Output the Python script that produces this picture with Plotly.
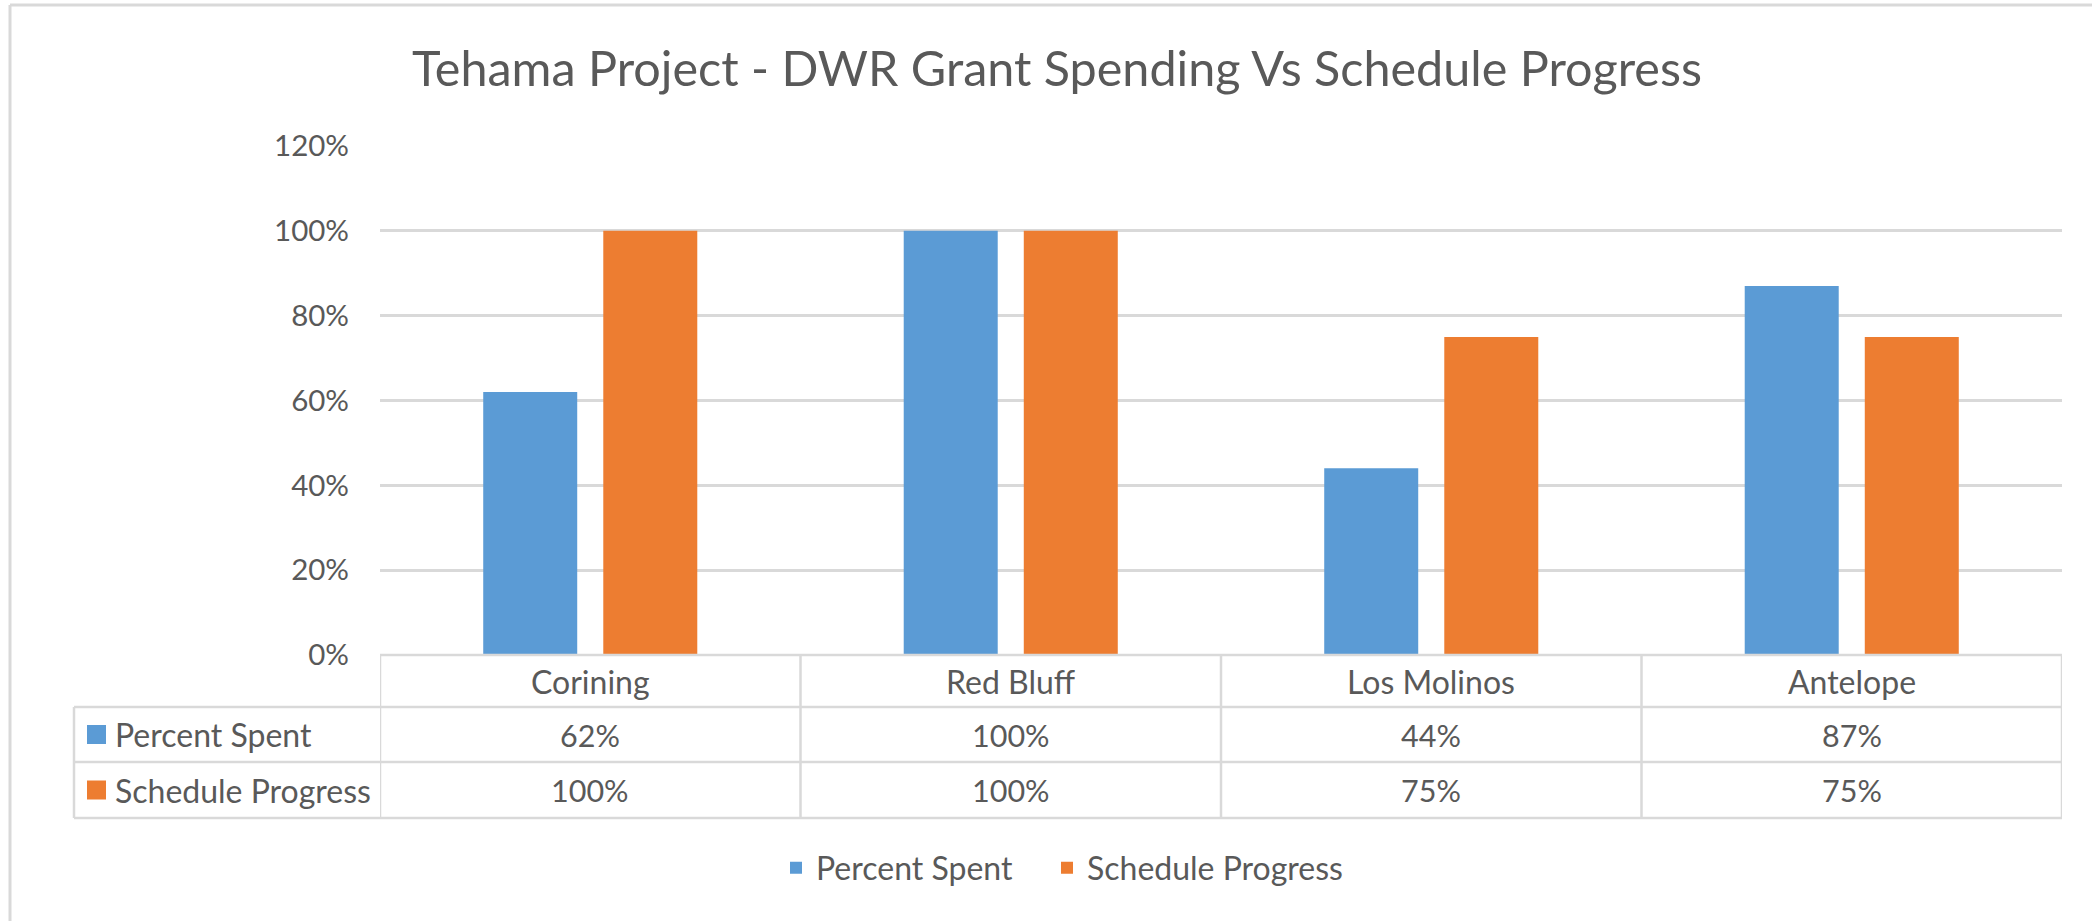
import plotly.graph_objects as go

# ---- data ----
categories = ["Corining", "Red Bluff", "Los Molinos", "Antelope"]
percent_spent = [0.62, 1.00, 0.44, 0.87]
schedule_progress = [1.00, 1.00, 0.75, 0.75]
series_names = ["Percent Spent", "Schedule Progress"]
y_ticks = [0, 0.2, 0.4, 0.6, 0.8, 1.0, 1.2]
title_text = "Tehama Project - DWR Grant Spending Vs Schedule Progress"

# ---- styles ----
W, H = 2092, 921
BLUE = "#5B9BD5"
ORANGE = "#ED7D31"
TXT = "#595959"
GRID = "#D9D9D9"
FONT = "Lato, 'Open Sans', sans-serif"
FS_WORD = 32
FS_NUM = 30.5
FS_TICK = 29.5

PL, PR = 380, 2062      # plot area left/right (px)
PT, PB = 146, 655       # plot area top/bottom (px)


def px_x(X):
    return (X - PL) / (PR - PL)


def px_y(Y):
    return (PB - Y) / (PB - PT)


series_vals = [percent_spent, schedule_progress]
colors = [BLUE, ORANGE]
legend_widths = [226, None]

fig = go.Figure()
for name, vals, col, lw in zip(series_names, series_vals, colors, legend_widths):
    fig.add_trace(go.Bar(x=categories, y=vals, name=name, legendwidth=lw,
                         marker=dict(color=col, line=dict(width=0))))

shapes = []
annotations = []
line = dict(color=GRID, width=2.5)

# table horizontal lines
rows_y = [655, 707, 762, 818]
shapes.append(dict(type="line", xref="paper", yref="paper",
                   x0=0, x1=1, y0=px_y(rows_y[0]), y1=px_y(rows_y[0]), line=line))
for Y in rows_y[1:]:
    shapes.append(dict(type="line", xref="paper", yref="paper",
                       x0=px_x(74), x1=1, y0=px_y(Y), y1=px_y(Y), line=line))
# table vertical lines
shapes.append(dict(type="line", xref="paper", yref="paper",
                   x0=px_x(74), x1=px_x(74), y0=px_y(707), y1=px_y(818), line=line))
for xv in [-0.5 + i for i in range(len(categories) + 1)]:
    shapes.append(dict(type="line", xref="x", yref="paper",
                       x0=xv, x1=xv, y0=px_y(655), y1=px_y(818), line=line))

# table text: header + values
hdr_y = (655 + 707) / 2
row_ys = [(707 + 762) / 2, (762 + 818) / 2]
for i, c in enumerate(categories):
    annotations.append(dict(x=c, y=px_y(hdr_y), xref="x", yref="paper", text=c,
                            showarrow=False, xanchor="center", yanchor="middle",
                            font=dict(family=FONT, size=FS_WORD, color=TXT)))
for vals, ry in zip(series_vals, row_ys):
    for c, v in zip(categories, vals):
        annotations.append(dict(x=c, y=px_y(ry), xref="x", yref="paper",
                                text=f"{round(v * 100)}%", showarrow=False,
                                xanchor="center", yanchor="middle",
                                font=dict(family=FONT, size=FS_NUM, color=TXT)))
# row headers with keys
for name, col, ry in zip(series_names, colors, row_ys):
    shapes.append(dict(type="rect", xref="paper", yref="paper",
                       x0=px_x(87), x1=px_x(106), y0=px_y(ry - 9.5), y1=px_y(ry + 9.5),
                       fillcolor=col, line=dict(width=0)))
    annotations.append(dict(x=px_x(113), y=px_y(ry), xref="paper", yref="paper",
                            text=name, showarrow=False, xanchor="left", yanchor="middle",
                            font=dict(family=FONT, size=FS_WORD, color=TXT)))

# outer frame (top and left edges visible)
shapes.append(dict(type="line", xref="paper", yref="paper",
                   x0=px_x(10), x1=px_x(W), y0=px_y(5), y1=px_y(5),
                   line=dict(color=GRID, width=3)))
shapes.append(dict(type="line", xref="paper", yref="paper",
                   x0=px_x(10), x1=px_x(10), y0=px_y(5), y1=px_y(H),
                   line=dict(color=GRID, width=3)))

fig.update_layout(
    width=W, height=H,
    margin=dict(l=PL, r=W - PR, t=PT, b=H - PB, autoexpand=False),
    paper_bgcolor="white", plot_bgcolor="white",
    title=dict(text=title_text, x=1057 / W, y=1 - 69 / H, xref="container",
               yref="container", xanchor="center", yanchor="middle",
               font=dict(family=FONT, size=48.5, color=TXT)),
    barmode="group", bargap=0.429, bargroupgap=0.217,
    showlegend=True,
    legend=dict(orientation="h", xref="container", yref="container",
                x=1062 / W, y=1 - 868 / H, xanchor="center", yanchor="middle",
                font=dict(family=FONT, size=FS_WORD, color=TXT),
                bgcolor="rgba(0,0,0,0)"),
    shapes=shapes, annotations=annotations,
)
fig.update_xaxes(range=[-0.5, len(categories) - 0.5], showticklabels=False,
                 showgrid=False, zeroline=False, showline=False, ticks="")
fig.update_yaxes(range=[0, 1.2], tickvals=y_ticks, tickformat=".0%",
                 showgrid=True, gridcolor=GRID, gridwidth=2.5, zeroline=False,
                 showline=False, ticks="", ticklabelstandoff=30,
                 tickfont=dict(family=FONT, size=FS_TICK, color=TXT))

fig.write_html("out.html", config={"displayModeBar": False},
               post_script="document.body.style.margin='0px';")
